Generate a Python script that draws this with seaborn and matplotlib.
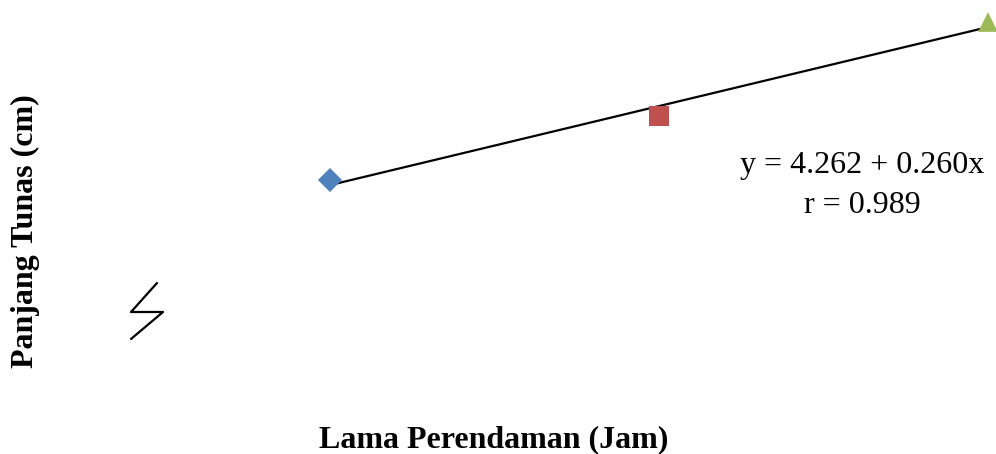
import numpy as np
import pandas as pd
import matplotlib
matplotlib.use("Agg")
import matplotlib.pyplot as plt
import seaborn as sns

# data
lama_jam = [6, 12, 18]
panjang_tunas = [5.92, 7.18, 9.04]
perlakuan = ["6 jam", "12 jam", "18 jam"]
warna = ["#4F81BD", "#C0504D", "#9BBB59"]
penanda = ["D", "s", "^"]

df = pd.DataFrame({"Lama": lama_jam, "Panjang": panjang_tunas, "Perlakuan": perlakuan})

sns.set_style("white")
plt.rcParams["font.family"] = ["Liberation Serif", "DejaVu Serif"]
plt.rcParams["text.color"] = "black"

fig = plt.figure(figsize=(9.96, 4.54), dpi=100)
ax = fig.add_axes([0, 0, 1, 1])

# regression line over the data range
sns.regplot(data=df, x="Lama", y="Panjang", scatter=False, ci=None,
            color="black", line_kws={"linewidth": 1.6}, ax=ax)

sns.scatterplot(data=df, x="Lama", y="Panjang", hue="Perlakuan", style="Perlakuan",
                palette=dict(zip(perlakuan, warna)), markers=dict(zip(perlakuan, penanda)),
                s=[150, 200, 200], edgecolor="none", legend=False, ax=ax, zorder=3, clip_on=False)

ax.set_xlim(-0.018, 18.147)
ax.set_ylim(0.51, 9.475)
ax.axis("off")

# axis break mark
W, H = 996, 454
bx = [157, 131, 163, 131]
by = [283, 312, 312, 339]
fig.add_artist(plt.Line2D([x / W for x in bx], [1 - y / H for y in by],
                          color="black", linewidth=1.6))

fig.text(862 / W, 1 - 166 / H, "y = 4.262 + 0.260x", fontsize=23,
         ha="center", va="center", color="black")
fig.text(862 / W, 1 - 205 / H, "r = 0.989", fontsize=23, ha="center", va="center",
         color="black")

fig.text(494 / W, 1 - 440 / H, "Lama Perendaman (Jam)", fontsize=23,
         fontweight="bold", ha="center", va="center", color="black")
fig.text(25 / W, 1 - 231 / H, "Panjang Tunas (cm)", fontsize=23,
         fontweight="bold", ha="center", va="center", rotation=90, color="black")

fig.savefig("out.png", dpi=100)
